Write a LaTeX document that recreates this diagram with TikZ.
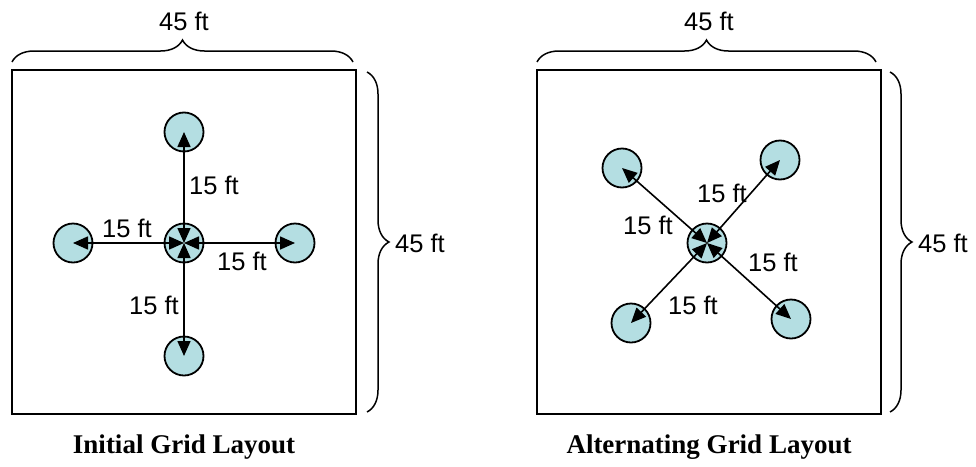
\documentclass[tikz,border=0pt]{standalone}
\usepackage{fontspec}
\setmainfont{Liberation Sans}
\newfontfamily\titlefont{Liberation Serif}
\usetikzlibrary{arrows.meta,decorations.pathreplacing}
\definecolor{wellblue}{RGB}{180,222,226}

\begin{document}
\begin{tikzpicture}[x=1pt,y=-1pt,
                    wellnode/.style={draw,circle,fill=wellblue,line width=1.8pt,minimum size=39pt,inner sep=0pt},
                    fieldbox/.style={draw,line width=2pt,minimum size=344pt,inner sep=0pt},
                    gap/.style={{Triangle[length=15pt,width=13pt]}-{Triangle[length=15pt,width=13pt]},line width=1.6pt},
                    sizebrace/.style={decorate,decoration={brace,amplitude=22pt},line width=1.5pt},
                    lbl/.style={font=\fontsize{25.5}{30}\selectfont,inner sep=0pt},
                    layouttitle/.style={font=\titlefont\bfseries\fontsize{27}{32}\selectfont,inner sep=0pt}]
                              \useasboundingbox (0,0) rectangle (976,466);

                              % initial grid
                              \node[fieldbox] (fieldA) at (184,242) {};
                              \node[wellnode] (cA) at (184,243) {};
                              \node[wellnode] (nA) at (184,132) {};
                              \node[wellnode] (sA) at (184,356) {};
                              \node[wellnode] (wA) at (73,243) {};
                              \node[wellnode] (eA) at (295,243) {};

                              \draw[gap] (cA.center) -- (nA.center);
                              \draw[gap] (cA.center) -- (sA.center);
                              \draw[gap] (cA.center) -- (wA.center);
                              \draw[gap] (cA.center) -- (eA.center);

                              \node[lbl] (dnA) at (214,185) {15 ft};
                              \node[lbl] (dwA) at (127,228) {15 ft};
                              \node[lbl] (deA) at (242,261) {15 ft};
                              \node[lbl] (dsA) at (154,305) {15 ft};

                              \coordinate (topLA) at (12,62);
                              \coordinate (topRA) at (353,62);
                              \coordinate (sideTA) at (367,72);
                              \coordinate (sideBA) at (367,412);
                              \draw[sizebrace] (topLA) -- (topRA);
                              \draw[sizebrace] (sideTA) -- (sideBA);
                              \node[lbl] (widthA) at (184,21) {45 ft};
                              \node[lbl,anchor=west] (heightA) at (395,243) {45 ft};

                              \node[layouttitle] (titleA) at (184,447) {Initial Grid Layout};

                              % alternating grid
                              \node[fieldbox] (fieldB) at (709,242) {};
                              \node[wellnode] (cB) at (707,243) {};
                              \node[wellnode] (nwB) at (622,168) {};
                              \node[wellnode] (neB) at (780,160) {};
                              \node[wellnode] (swB) at (631,323) {};
                              \node[wellnode] (seB) at (791,319) {};

                              \draw[gap] (cB.center) -- (nwB.center);
                              \draw[gap] (cB.center) -- (neB.center);
                              \draw[gap] (cB.center) -- (swB.center);
                              \draw[gap] (cB.center) -- (seB.center);

                              \node[lbl] (dneB) at (722,193) {15 ft};
                              \node[lbl] (dnwB) at (648,225) {15 ft};
                              \node[lbl] (dseB) at (773,262) {15 ft};
                              \node[lbl] (dswB) at (693,305) {15 ft};

                              \coordinate (topLB) at (537,62);
                              \coordinate (topRB) at (876,62);
                              \coordinate (sideTB) at (890,72);
                              \coordinate (sideBB) at (890,412);
                              \draw[sizebrace] (topLB) -- (topRB);
                              \draw[sizebrace] (sideTB) -- (sideBB);
                              \node[lbl] (widthB) at (709,21) {45 ft};
                              \node[lbl,anchor=west] (heightB) at (918,243) {45 ft};

                              \node[layouttitle] (titleB) at (709,447) {Alternating Grid Layout};
                      \end{tikzpicture}
\end{document}
